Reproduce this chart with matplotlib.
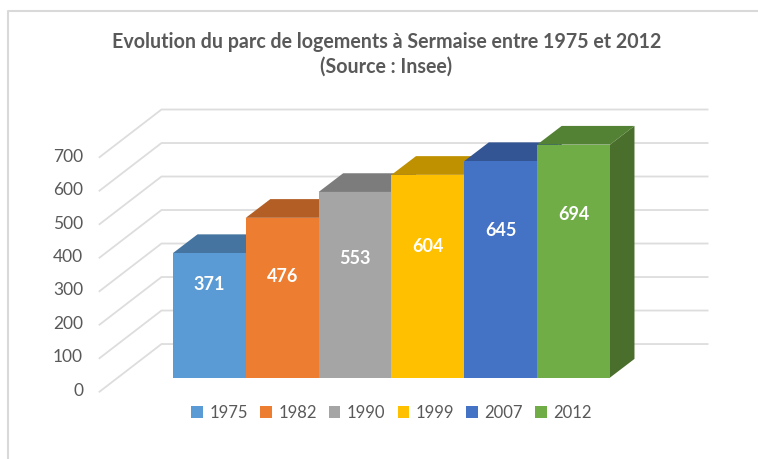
import matplotlib
matplotlib.use('Agg')
import matplotlib.pyplot as plt
from matplotlib.patches import Polygon, Patch

# ====================== data ======================
years = ['1975', '1982', '1990', '1999', '2007', '2012']
logements = [371, 476, 553, 604, 645, 694]
label_heights = [277, 301, 354, 391, 439, 487]  # labels are not centred in the original
y_ticks = [0, 100, 200, 300, 400, 500, 600, 700]

front_colors = ['#5B9BD5', '#ED7D31', '#A5A5A5', '#FFC000', '#4472C4', '#70AD47']
top_colors = ['#44749F', '#B25E25', '#7C7C7C', '#BF9000', '#335593', '#548235']
side_colors = ['#3D6A90', '#9F5420', '#6F6F6F', '#AB8100', '#2D4C83', '#4A6F2C']

plt.rcParams['font.family'] = ['Lato', 'DejaVu Sans']
text_color = '#595959'
grid_color = '#DDDDDD'

# 3D effect: axes fill the figure, 1 x unit = one bar, y unit = logements
fig = plt.figure(figsize=(7.58, 4.59), dpi=100)
ax = fig.add_axes([0, 0, 1, 1])
x_px, y_px = 72.83, 0.3357  # pixels per data unit
ax.set_xlim(-173 / x_px, (758 - 173) / x_px)
ax.set_ylim((377.6 - 459) / y_px, 377.6 / y_px)
ax.axis('off')

bar_dx, bar_dy = 24.5 / x_px, 18.7 / y_px  # depth of bars
wall_x0, wall_x1, wall_y = -0.158, 7.34, 100  # back wall
floor_x, floor_y = -1.009, -42  # front left corner of floor

# gridlines on the wall and on the left side
for t in y_ticks:
    ax.plot([floor_x, wall_x0, wall_x1],
            [floor_y + t * 0.998, wall_y + t * 0.998, wall_y + t * 0.998],
            color=grid_color, lw=1.3, zorder=1, solid_joinstyle='miter')
    ax.text(-1.235, floor_y + 3 + t * 0.995, str(t), ha='right', va='center',
            fontsize=12.5, color=text_color)

# bars
for i, v in enumerate(logements):
    ax.add_patch(Polygon([(i + 1, 0), (i + 1 + bar_dx, bar_dy), (i + 1 + bar_dx, v + bar_dy), (i + 1, v)],
                         facecolor=side_colors[i], edgecolor='none', zorder=2 + i))
    ax.add_patch(Polygon([(i, v), (i + bar_dx, v + bar_dy), (i + 1 + bar_dx, v + bar_dy), (i + 1, v)],
                         facecolor=top_colors[i], edgecolor='none', zorder=2 + i))
    ax.bar(i, v, width=1, align='edge', color=front_colors[i], zorder=2 + i + 0.5)
    ax.text(i + 0.5, label_heights[i], str(v), ha='center', va='center',
            fontsize=13, fontweight='bold', color='white', zorder=20)

# title
ax.text(386.5 / 758, 1 - 41.5 / 459, 'Evolution du parc de logements à Sermaise entre 1975 et 2012',
        transform=ax.transAxes, ha='center', va='center', fontsize=14.1,
        fontweight='bold', color=text_color)
ax.text(386.5 / 758, 1 - 66.5 / 459, '(Source : Insee)',
        transform=ax.transAxes, ha='center', va='center', fontsize=14.1,
        fontweight='bold', color=text_color)

# legend
handles = [Patch(facecolor=c, label=y) for c, y in zip(front_colors, years)]
ax.legend(handles=handles, ncols=6, loc='center', bbox_to_anchor=(391.5 / 758, 1 - 412.5 / 459),
          frameon=False, fontsize=12, labelcolor=text_color, handlelength=0.7, handleheight=0.7,
          handletextpad=0.4, columnspacing=0.72, borderpad=0)

# chart frame
ax.plot([8 / 758, 8 / 758, 1], [0, 1 - 10.5 / 459, 1 - 10.5 / 459], transform=ax.transAxes,
        color='#D9D9D9', lw=1.5, clip_on=False)

fig.savefig('out.png', dpi=100)
